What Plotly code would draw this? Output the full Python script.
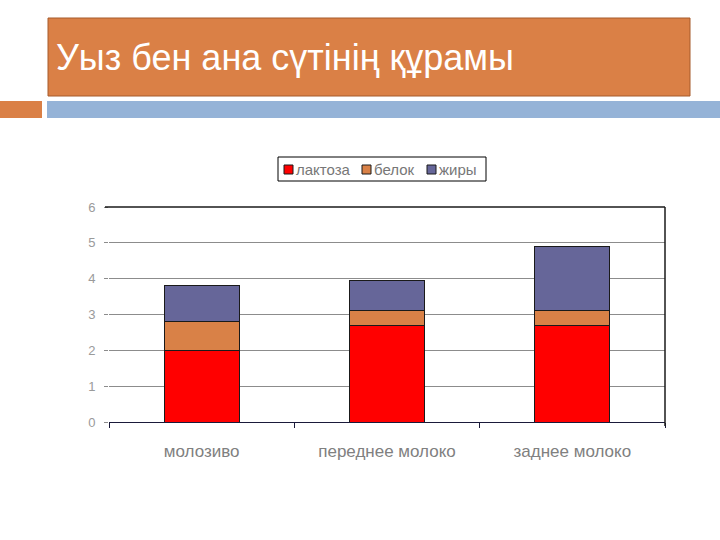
import plotly.graph_objects as go

categories = ["молозиво", "переднее молоко", "заднее молоко"]
lactose = [2.0, 2.7, 2.7]
protein = [0.8, 0.4, 0.4]
fat = [1.0, 0.85, 1.8]
series_names = ["лактоза", "белок", "жиры"]
y_ticks = [0, 1, 2, 3, 4, 5, 6]
title_text = "Уыз бен ана сүтінің құрамы"

W, H = 720, 540
colors = ["#FF0000", "#D98147", "#666699"]

fig = go.Figure()
for name, vals, c in zip(series_names, [lactose, protein, fat], colors):
    fig.add_trace(go.Bar(
        x=categories, y=vals, name=name,
        marker=dict(color=c, line=dict(color="#1a1a1a", width=1)),
        width=0.405, showlegend=False,
    ))

x0, x1 = 109 / W, 665 / W
y0, y1 = (H - 422) / H, (H - 207) / H

def px(x):
    return x / W

def py(y):
    return (H - y) / H

fig.update_layout(
    width=W, height=H,
    margin=dict(l=0, r=0, t=0, b=0, autoexpand=False),
    paper_bgcolor="white", plot_bgcolor="white",
    barmode="stack",
    showlegend=False,
    xaxis=dict(
        domain=[x0, x1], anchor="y", automargin=False,
        showgrid=False, showline=True, linecolor="#1a1a3a", linewidth=1,
        ticks="outside", tickson="boundaries", ticklen=5, tickcolor="#1a1a3a",
        tickfont=dict(family="Liberation Sans, Arial", size=17, color="#808080"),
        ticklabelstandoff=14,
    ),
    yaxis=dict(
        domain=[y0, y1], anchor="x", automargin=False,
        range=[0, 6], tickvals=y_ticks,
        showgrid=True, gridcolor="#8c8c8c", gridwidth=1,
        showline=False, zeroline=False,
        ticks="outside", ticklen=4, tickcolor="#8c8c8c",
        tickfont=dict(family="Liberation Sans, Arial", size=13, color="#9a9a9a"),
        ticklabelstandoff=6,
    ),
    font=dict(family="Liberation Sans, Arial"),
)

# top border of plot area (dark) and right border
fig.add_shape(type="line", xref="paper", yref="paper", x0=x0 - 4 / W, x1=x1, y0=y1, y1=y1,
              line=dict(color="#1a1a1a", width=1.5))
fig.add_shape(type="line", xref="paper", yref="paper", x0=x1, x1=x1, y0=y0 - 4 / H, y1=y1,
              line=dict(color="#1a1a1a", width=1.5))

# title box
fig.add_shape(type="rect", xref="paper", yref="paper",
              x0=px(48), x1=px(690), y0=py(96), y1=py(18),
              fillcolor="#DA8046", line=dict(color="#A65A2A", width=1), layer="below")
# decorative band
fig.add_shape(type="rect", xref="paper", yref="paper",
              x0=0, x1=px(42), y0=py(118), y1=py(101),
              fillcolor="#DA8046", line=dict(width=0), layer="below")
fig.add_shape(type="rect", xref="paper", yref="paper",
              x0=px(47), x1=1, y0=py(118), y1=py(101),
              fillcolor="#95B3D7", line=dict(width=0), layer="below")

fig.add_annotation(
    text=title_text, xref="paper", yref="paper",
    x=px(54), y=py(58), xanchor="left", yanchor="middle",
    showarrow=False,
    font=dict(family="Liberation Sans, Arial", size=36, color="white"),
)

# legend box (custom, compact like the original)
fig.add_shape(type="rect", xref="paper", yref="paper",
              x0=px(278), x1=px(486), y0=py(181), y1=py(157),
              fillcolor="white", line=dict(color="#000000", width=1))
leg_sq_x = [284, 362, 427]
leg_tx_x = [294, 372, 437]
for name, c, sx, tx in zip(series_names, colors, leg_sq_x, leg_tx_x):
    fig.add_shape(type="rect", xref="paper", yref="paper",
                  x0=px(sx), x1=px(sx + 9), y0=py(174), y1=py(165),
                  fillcolor=c, line=dict(color="#1a1a1a", width=1))
    fig.add_annotation(
        text=name, xref="paper", yref="paper",
        x=px(tx), y=py(169.5), xanchor="left", yanchor="middle",
        showarrow=False,
        font=dict(family="Liberation Sans, Arial", size=15, color="#777777"),
    )

fig.write_html("out.html")
